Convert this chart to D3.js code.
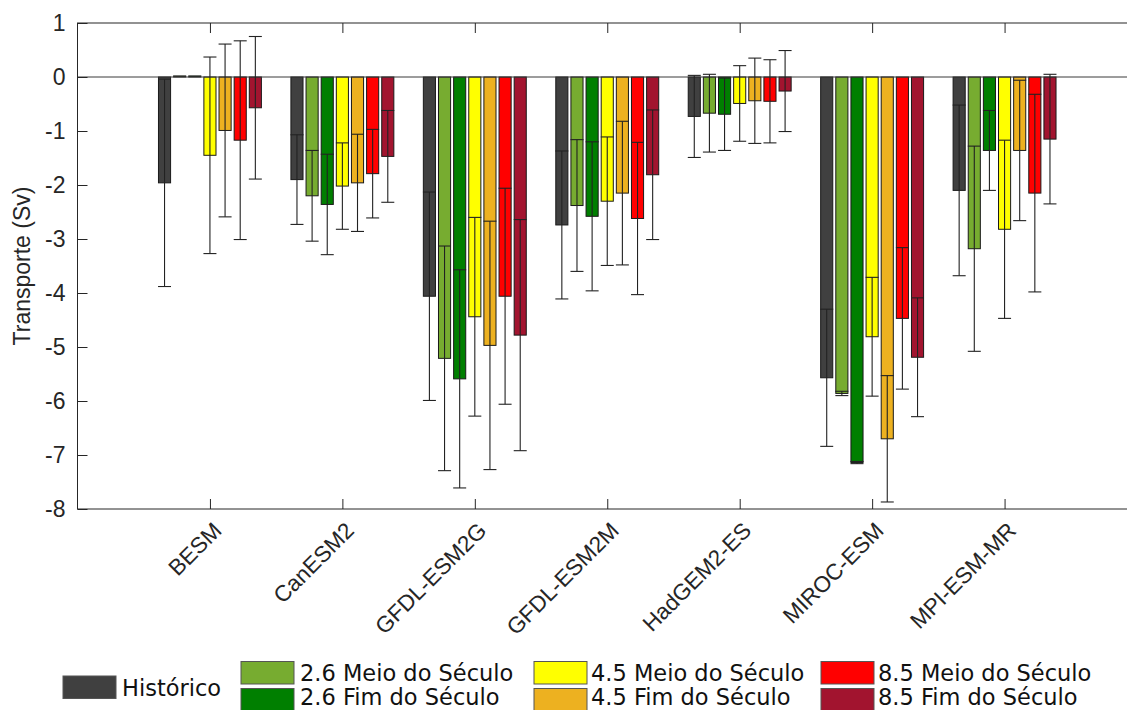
<!DOCTYPE html>
<html>
<head>
<meta charset="utf-8">
<script src="https://cdn.jsdelivr.net/npm/d3@7"></script>
<style>
  html, body { margin: 0; padding: 0; background: #fff; }
  svg { display: block; }
</style>
</head>
<body>
<svg id="chart" width="1127" height="710"></svg>
<script>
// ---------------- DATA ----------------
const categories = ["BESM", "CanESM2", "GFDL-ESM2G", "GFDL-ESM2M", "HadGEM2-ES", "MIROC-ESM", "MPI-ESM-MR"];
const seriesNames = ["Histórico", "2.6 Meio do Século", "2.6 Fim do Século", "4.5 Meio do Século", "4.5 Fim do Século", "8.5 Meio do Século", "8.5 Fim do Século"];
const seriesColors = ["#404040", "#77AC30", "#007F00", "#FFFF00", "#EDB120", "#FF0000", "#A2142F"];

const historico      = [-1.96, -1.90, -4.06, -2.74, -0.73, -5.57, -2.10];
const historicoErr   = [ 1.92,  0.83,  1.93,  1.37,  0.76,  1.27,  1.58];
const rcp26Meio      = [ 0.02, -2.20, -5.21, -2.38, -0.67, -5.86, -3.18];
const rcp26MeioErr   = [ null,  0.84,  2.08,  1.22,  0.72,  0.04,  1.90];
const rcp26Fim       = [ 0.02, -2.36, -5.59, -2.58, -0.69, -7.14, -1.36];
const rcp26FimErr    = [ null,  0.93,  2.02,  1.38,  0.67,  0.02,  0.74];
const rcp45Meio      = [-1.45, -2.02, -4.44, -2.30, -0.49, -4.81, -2.82];
const rcp45MeioErr   = [ 1.82,  0.80,  1.84,  1.19,  0.70,  1.10,  1.65];
const rcp45Fim       = [-0.99, -1.96, -4.97, -2.15, -0.44, -6.70, -1.36];
const rcp45FimErr    = [ 1.60,  0.90,  2.30,  1.33,  0.79,  1.17,  1.30];
const rcp85Meio      = [-1.17, -1.79, -4.06, -2.62, -0.45, -4.47, -2.15];
const rcp85MeioErr   = [ 1.84,  0.82,  2.00,  1.41,  0.77,  1.31,  1.83];
const rcp85Fim       = [-0.57, -1.47, -4.78, -1.81, -0.26, -5.19, -1.15];
const rcp85FimErr    = [ 1.32,  0.85,  2.14,  1.20,  0.75,  1.10,  1.20];

const yTicks = [1, 0, -1, -2, -3, -4, -5, -6, -7, -8];
const yLabel = "Transporte (Sv)";

const seriesValues = [historico, rcp26Meio, rcp26Fim, rcp45Meio, rcp45Fim, rcp85Meio, rcp85Fim];
const seriesErrors = [historicoErr, rcp26MeioErr, rcp26FimErr, rcp45MeioErr, rcp45FimErr, rcp85MeioErr, rcp85FimErr];

// ---------------- LAYOUT ----------------
const svg = d3.select("#chart");
const plot = { left: 77.5, right: 1137, top: 23, bottom: 509 };
const axisFont = "'Liberation Sans', Arial, Helvetica, sans-serif";
const legendFont = "'DejaVu Sans', sans-serif";
const textColor = "#262626";

const x = d3.scaleLinear().domain([0, categories.length + 1]).range([plot.left, plot.right]);
const y = d3.scaleLinear().domain([-8, 1]).range([plot.bottom, plot.top]);

const nSeries = seriesNames.length;
const groupWidth = 0.8;
const slot = groupWidth / nSeries;
const barW = slot * 0.8;
const offset = i => (i - (nSeries - 1) / 2) * slot;

// bars
const barsG = svg.append("g");
seriesValues.forEach((vals, si) => {
  barsG.append("g").selectAll("rect")
    .data(vals.map((v, ci) => ({ v, ci })))
    .join("rect")
    .attr("x", d => x(d.ci + 1 + offset(si) - barW / 2))
    .attr("width", d => x(barW) - x(0))
    .attr("y", d => y(Math.max(0, d.v)))
    .attr("height", d => Math.abs(y(d.v) - y(0)))
    .attr("fill", seriesColors[si])
    .attr("stroke", "#1a1a1a")
    .attr("stroke-width", 1);
});

// zero baseline
svg.append("line")
  .attr("x1", plot.left).attr("x2", plot.right)
  .attr("y1", y(0)).attr("y2", y(0))
  .attr("stroke", "#3a3a3a").attr("stroke-width", 1);

// error bars
const errG = svg.append("g").attr("stroke", "#222").attr("stroke-width", 1.1);
const capHalf = 6.5;
seriesValues.forEach((vals, si) => {
  vals.forEach((v, ci) => {
    const e = seriesErrors[si][ci];
    if (e === null || e === undefined) return;
    const cx = x(ci + 1 + offset(si));
    const y1 = y(v - e), y2 = y(v + e);
    errG.append("line").attr("x1", cx).attr("x2", cx).attr("y1", y1).attr("y2", y2);
    errG.append("line").attr("x1", cx - capHalf).attr("x2", cx + capHalf).attr("y1", y1).attr("y2", y1);
    errG.append("line").attr("x1", cx - capHalf).attr("x2", cx + capHalf).attr("y1", y2).attr("y2", y2);
  });
});

// frame
svg.append("rect")
  .attr("x", plot.left).attr("y", plot.top)
  .attr("width", plot.right - plot.left).attr("height", plot.bottom - plot.top)
  .attr("fill", "none").attr("stroke", textColor).attr("stroke-width", 1);

// Y axis (ticks inward)
const yAxis = d3.axisLeft(y).tickValues(yTicks).tickSize(-10).tickPadding(12).tickFormat(d3.format("d"));
const gy = svg.append("g").attr("transform", `translate(${plot.left},0)`).call(yAxis);
gy.select(".domain").remove();
gy.selectAll(".tick line").attr("stroke", textColor);
gy.selectAll(".tick text")
  .attr("font-family", axisFont).attr("font-size", 23).attr("fill", textColor)
  .text(d => d < 0 ? "-" + Math.abs(d) : d);

// top / bottom category ticks (inward)
const catIdx = categories.map((c, i) => i + 1);
const xTop = d3.axisTop(x).tickValues(catIdx).tickSize(-10).tickFormat("");
const gxt = svg.append("g").attr("transform", `translate(0,${plot.top})`).call(xTop);
gxt.select(".domain").remove();
gxt.selectAll(".tick line").attr("stroke", textColor);

const xBot = d3.axisBottom(x).tickValues(catIdx).tickSize(-10).tickFormat("");
const gxb = svg.append("g").attr("transform", `translate(0,${plot.bottom})`).call(xBot);
gxb.select(".domain").remove();
gxb.selectAll(".tick line").attr("stroke", textColor);

// rotated category labels
svg.append("g").selectAll("text")
  .data(categories)
  .join("text")
  .attr("transform", (d, i) => `translate(${x(i + 1) + 13},${plot.bottom + 23}) rotate(-45)`)
  .attr("text-anchor", "end")
  .attr("font-family", axisFont).attr("font-size", 22.5).attr("fill", textColor)
  .text(d => d);

// y label
svg.append("text")
  .attr("transform", `translate(30,266) rotate(-90)`)
  .attr("text-anchor", "middle")
  .attr("font-family", axisFont).attr("font-size", 23).attr("fill", textColor)
  .text(yLabel);

// legend
const legendPos = [
  { sx: 63,  sy: 676, tx: 122, ty: 696 },
  { sx: 241, sy: 661.5, tx: 300, ty: 680.5 },
  { sx: 241, sy: 688.5, tx: 300, ty: 704.5 },
  { sx: 534, sy: 661.5, tx: 591, ty: 680.5 },
  { sx: 534, sy: 688.5, tx: 591, ty: 704.5 },
  { sx: 821, sy: 661.5, tx: 878, ty: 680.5 },
  { sx: 821, sy: 688.5, tx: 878, ty: 704.5 }
];
const swW = 53, swH = 22.5;
const lg = svg.append("g");
seriesNames.forEach((name, i) => {
  const p = legendPos[i];
  lg.append("rect").attr("x", p.sx).attr("y", p.sy).attr("width", swW).attr("height", swH)
    .attr("fill", seriesColors[i]).attr("stroke", "#555").attr("stroke-width", 1);
  lg.append("text").attr("x", p.tx).attr("y", p.ty)
    .attr("font-family", legendFont).attr("font-size", 22.5).attr("fill", "#111")
    .text(name);
});
</script>
</body>
</html>
